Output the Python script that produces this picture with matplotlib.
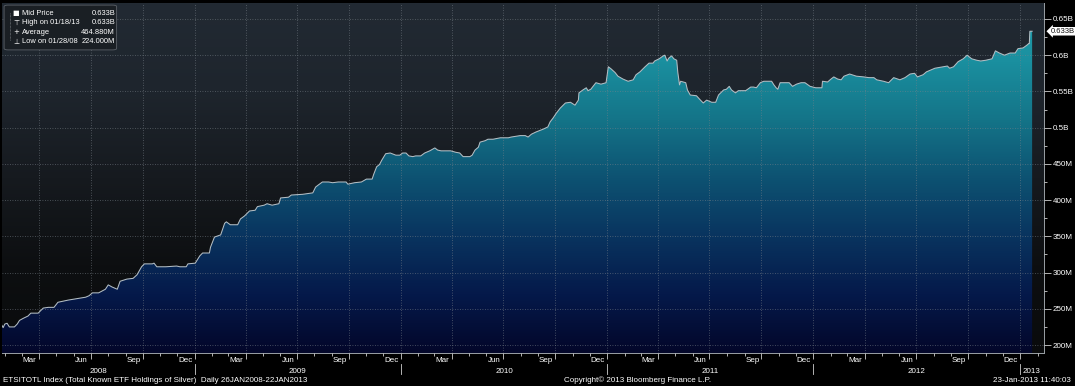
import numpy as np
import pandas as pd
import matplotlib
matplotlib.use('Agg')
import matplotlib.pyplot as plt
import matplotlib.dates as mdates
import matplotlib.transforms as mtransforms
from matplotlib.colors import LinearSegmentedColormap
from matplotlib.patches import FancyBboxPatch
from matplotlib.ticker import NullFormatter, FuncFormatter

plt.rcParams['font.family'] = ['Liberation Sans', 'DejaVu Sans']

# ETSITOTL Index - total known ETF holdings of silver (millions of oz)
dates = [
    '2008-01-26', '2008-01-28', '2008-01-31', '2008-02-04', '2008-02-08', '2008-02-17', '2008-02-22', '2008-02-26',
    '2008-03-04', '2008-03-12', '2008-03-17', '2008-03-30', '2008-04-08', '2008-04-17', '2008-04-27', '2008-05-04',
    '2008-05-22', '2008-06-14', '2008-06-22', '2008-06-28', '2008-07-04', '2008-07-15', '2008-07-27', '2008-08-01',
    '2008-08-08', '2008-08-17', '2008-08-22', '2008-09-03', '2008-09-14', '2008-09-21', '2008-09-29', '2008-10-04',
    '2008-10-18', '2008-10-21', '2008-10-26', '2008-11-11', '2008-11-30', '2008-12-06', '2008-12-17', '2008-12-20',
    '2009-01-02', '2009-01-10', '2009-01-15', '2009-01-27', '2009-01-29', '2009-02-05', '2009-02-16', '2009-02-23',
    '2009-02-26', '2009-03-05', '2009-03-18', '2009-03-23', '2009-03-30', '2009-04-08', '2009-04-18', '2009-04-22',
    '2009-05-04', '2009-05-09', '2009-05-18', '2009-05-30', '2009-06-02', '2009-06-16', '2009-06-21', '2009-07-11',
    '2009-07-29', '2009-08-03', '2009-08-08', '2009-08-15', '2009-08-26', '2009-09-02', '2009-09-12', '2009-09-26',
    '2009-09-29', '2009-10-11', '2009-10-23', '2009-11-01', '2009-11-11', '2009-11-14', '2009-11-19', '2009-11-24',
    '2009-11-28', '2009-12-05', '2009-12-13', '2009-12-23', '2009-12-30', '2010-01-04', '2010-01-10', '2010-01-15',
    '2010-01-22', '2010-01-27', '2010-02-05', '2010-02-12', '2010-02-21', '2010-03-02', '2010-03-07', '2010-03-13',
    '2010-03-30', '2010-04-08', '2010-04-15', '2010-04-21', '2010-05-03', '2010-05-07', '2010-05-12', '2010-05-18',
    '2010-05-21', '2010-05-30', '2010-06-04', '2010-06-13', '2010-06-26', '2010-07-10', '2010-07-15', '2010-07-31',
    '2010-08-09', '2010-08-14', '2010-08-20', '2010-08-28', '2010-09-10', '2010-09-18', '2010-09-22', '2010-09-27',
    '2010-10-03', '2010-10-10', '2010-10-19', '2010-10-28', '2010-11-05', '2010-11-11', '2010-11-12', '2010-11-19',
    '2010-11-25', '2010-11-28', '2010-12-03', '2010-12-12', '2010-12-21', '2010-12-30', '2011-01-03', '2011-01-08',
    '2011-01-15', '2011-01-20', '2011-01-29', '2011-02-07', '2011-02-16', '2011-02-21', '2011-02-28', '2011-03-09',
    '2011-03-16', '2011-03-23', '2011-03-26', '2011-04-03', '2011-04-10', '2011-04-13', '2011-04-17', '2011-04-20',
    '2011-04-25', '2011-04-29', '2011-05-04', '2011-05-06', '2011-05-09', '2011-05-11', '2011-05-20', '2011-05-23',
    '2011-05-28', '2011-06-08', '2011-06-15', '2011-06-20', '2011-06-26', '2011-07-05', '2011-07-12', '2011-07-17',
    '2011-07-26', '2011-07-31', '2011-08-05', '2011-08-09', '2011-08-16', '2011-08-21', '2011-09-03', '2011-09-12',
    '2011-09-17', '2011-09-22', '2011-09-29', '2011-10-05', '2011-10-19', '2011-10-23', '2011-10-27', '2011-10-30',
    '2011-11-03', '2011-11-14', '2011-11-19', '2011-11-25', '2011-12-02', '2011-12-10', '2011-12-17', '2011-12-26',
    '2012-01-05', '2012-01-16', '2012-01-17', '2012-01-26', '2012-02-01', '2012-02-06', '2012-02-13', '2012-02-19',
    '2012-02-24', '2012-03-05', '2012-03-17', '2012-03-30', '2012-04-08', '2012-04-17', '2012-04-22', '2012-05-04',
    '2012-05-13', '2012-05-22', '2012-06-02', '2012-06-11', '2012-06-20', '2012-06-28', '2012-07-03', '2012-07-13',
    '2012-07-19', '2012-08-03', '2012-08-25', '2012-08-29', '2012-09-05', '2012-09-13', '2012-09-22', '2012-09-29',
    '2012-10-07', '2012-10-16', '2012-10-23', '2012-11-01', '2012-11-12', '2012-11-18', '2012-11-25', '2012-12-04',
    '2012-12-14', '2012-12-23', '2012-12-28', '2013-01-06', '2013-01-13', '2013-01-16', '2013-01-17', '2013-01-18',
    '2013-01-22']

holdings = [
    227, 224, 229, 230, 225, 225, 229, 234,
    237, 240, 244, 244, 251, 252, 252, 259,
    262, 265, 266, 268, 272, 272, 277, 283,
    280, 277, 288, 291, 292, 297, 308, 312,
    312, 313, 308, 308, 309, 308, 308, 312,
    313, 323, 327, 327, 335, 349, 352, 368,
    370, 366, 366, 374, 378, 385, 386, 391,
    393, 395, 393, 395, 403, 404, 407, 408,
    410, 418, 421, 425, 425, 424, 425, 425,
    422, 424, 425, 429, 429, 436, 446, 449,
    455, 464, 465, 462, 462, 465, 465, 461,
    460, 461, 461, 465, 468, 472, 469, 468,
    468, 466, 465, 460, 460, 462, 469, 473,
    480, 482, 484, 484, 486, 486, 487, 489,
    489, 487, 491, 494, 498, 501, 508, 513,
    520, 527, 534, 535, 531, 538, 548, 552,
    555, 551, 553, 562, 560, 562, 584, 581,
    576, 571, 567, 564, 566, 573, 577, 584,
    589, 589, 592, 595, 599, 600, 592, 596,
    599, 595, 593, 576, 559, 564, 562, 552,
    545, 544, 538, 534, 538, 535, 535, 545,
    552, 553, 557, 552, 548, 551, 551, 556,
    556, 555, 562, 564, 564, 559, 555, 553,
    562, 562, 562, 557, 560, 562, 562, 557,
    555, 555, 564, 563, 567, 570, 567, 566,
    571, 574, 571, 570, 569, 569, 566, 564,
    562, 569, 566, 569, 574, 575, 570, 573,
    577, 582, 585, 582, 584, 591, 595, 600,
    595, 593, 592, 593, 595, 606, 603, 600,
    603, 603, 609, 610, 614, 616, 616, 633,
    633]

legend_rows = [('Mid Price', '0.633B'),
               ('High on 01/18/13', '0.633B'),
               ('Average', '464.880M'),
               ('Low on 01/28/08', '224.000M')]
legend_icons = ['\u25a0', '\u22a4', '+', '\u22a5']

month_names = {3: 'Mar', 6: 'Jun', 9: 'Sep', 12: 'Dec'}
years = [2008, 2009, 2010, 2011, 2012, 2013]

x = mdates.date2num(pd.to_datetime(dates))
y = np.array(holdings, dtype=float)

xmin = mdates.date2num(pd.Timestamp('2008-01-26'))
xmax = mdates.date2num(pd.Timestamp('2013-02-12'))
ymin, ymax = 189, 672

fig = plt.figure(figsize=(10.75, 3.86), dpi=100, facecolor='black')
ax = fig.add_axes([2 / 1075, 1 - 353 / 386, 1042 / 1075, 350 / 386])
ax.set_facecolor('#111417')

# background + area gradients
bg_cmap = LinearSegmentedColormap.from_list('bg', ['#0a0b0c', '#0d0f11', '#161a1f', '#1e252d', '#222a33'])
fill_cmap = LinearSegmentedColormap.from_list('fill', ['#03072a', '#05194a', '#09345f', '#0d5272',
                                                       '#147488', '#1a8f9f', '#22a0ae'])
grad = np.linspace(0, 1, 256).reshape(-1, 1)
ax.imshow(grad, extent=[xmin, xmax, ymin, ymax], origin='lower', aspect='auto',
          cmap=bg_cmap, zorder=0)
poly = ax.fill_between(x, y, ymin, color='none', lw=0)
im = ax.imshow(grad, extent=[xmin, xmax, ymin, ymax], origin='lower', aspect='auto',
               cmap=fill_cmap, zorder=1)
im.set_clip_path(poly.get_paths()[0], transform=ax.transData)

ax.plot(x, y, color='#b4bec4', lw=0.75, zorder=3)

ax.set_xlim(xmin, xmax)
ax.set_ylim(ymin, ymax)
ax.xaxis_date()

# x axis: quarterly grid, monthly ticks
ax.xaxis.set_major_locator(mdates.MonthLocator(bymonth=[1, 4, 7, 10]))
ax.xaxis.set_minor_locator(mdates.MonthLocator())
ax.xaxis.set_major_formatter(NullFormatter())
ax.xaxis.set_minor_formatter(NullFormatter())
ax.tick_params(axis='x', which='major', length=4, color='#d0d0d0', width=0.6)
ax.tick_params(axis='x', which='minor', length=2.5, color='#d0d0d0', width=0.6)

# y axis on the right
ax.yaxis.tick_right()
ax.set_yticks(np.arange(200, 651, 50))
ax.set_yticks(np.arange(225, 651, 50), minor=True)
ax.yaxis.set_major_formatter(FuncFormatter(
    lambda v, p: '%dM' % v if v < 500 else '%gB' % (v / 1000)))
ax.tick_params(axis='y', which='major', length=5, color='#d0d0d0', width=0.6,
               labelcolor='white', labelsize=5.8, pad=1.5)
ax.tick_params(axis='y', which='minor', length=2.5, color='#d0d0d0', width=0.6)

ax.set_axisbelow(False)
ax.grid(True, which='major', color='#7a828a', linestyle=(0, (1, 2)), linewidth=0.6, alpha=0.7)

for sp in ['top', 'left']:
    ax.spines[sp].set_visible(False)
for sp in ['right', 'bottom']:
    ax.spines[sp].set_color('#9aa0a6')
    ax.spines[sp].set_linewidth(0.7)

# month / year labels under the axis
trans = mtransforms.blended_transform_factory(ax.transData, ax.transAxes)
for yr in years[:-1]:
    for m, name in month_names.items():
        ax.text(mdates.date2num(pd.Timestamp(yr, m, 15)), -0.012, name, transform=trans,
                ha='center', va='top', color='white', fontsize=5.8)
for yr in years:
    start = max(mdates.date2num(pd.Timestamp(yr, 1, 1)), xmin)
    if yr > years[0]:
        ax.plot([start, start], [-0.031, -0.060], transform=trans, clip_on=False,
                color='#d0d0d0', lw=0.6)
    if yr == years[-1]:
        ax.text(start + 4, -0.043, str(yr), transform=trans, ha='left', va='top',
                color='white', fontsize=5.8)
    else:
        end = mdates.date2num(pd.Timestamp(yr + 1, 1, 1))
        ax.text((start + end) / 2, -0.043, str(yr), transform=trans, ha='center', va='top',
                color='white', fontsize=5.8)

# last value callout
ax.annotate('%.3fB' % (y[-1] / 1000), xy=(1, y[-1]), xycoords=('axes fraction', 'data'),
            xytext=(5, 0), textcoords='offset points', va='center', ha='left',
            fontsize=5.5, color='#111111',
            bbox=dict(boxstyle='larrow,pad=0.1', fc='white', ec='none'), annotation_clip=False)

# legend box
box = FancyBboxPatch((0.002, 0.866), 0.108, 0.128, transform=ax.transAxes,
                     boxstyle='round,pad=0,rounding_size=0.004',
                     fc='#1a1f24', ec='#5c6168', lw=0.6, zorder=5)
ax.add_patch(box)
ax.plot([0.0075, 0.0075], [0.972, 0.893], transform=ax.transAxes, color='#8a8f95',
        lw=0.5, ls=(0, (1, 1)), zorder=6)
row_y = [0.970, 0.943, 0.917, 0.890]
for (lab, val), icon, ry in zip(legend_rows, legend_icons, row_y):
    ax.text(0.0135, ry, icon, transform=ax.transAxes, ha='center', va='center',
            color='white', fontsize=5, zorder=7, family=['DejaVu Sans'])
    ax.text(0.019, ry, lab, transform=ax.transAxes, ha='left', va='center',
            color='white', fontsize=5.4, zorder=7)
    ax.text(0.1085, ry, val, transform=ax.transAxes, ha='right', va='center',
            color='white', fontsize=5.4, zorder=7)

# footer
fig.text(0.003, 0.015, 'ETSITOTL Index (Total Known ETF Holdings of Silver)  Daily 26JAN2008-22JAN2013',
         ha='left', va='center', color='white', fontsize=5.8)
fig.text(0.593, 0.015, 'Copyright\u00a9 2013 Bloomberg Finance L.P.', ha='center', va='center',
         color='white', fontsize=5.8)
fig.text(0.996, 0.015, '23-Jan-2013 11:40:03', ha='right', va='center', color='white', fontsize=5.8)

fig.savefig('out.png', dpi=100, facecolor='black')
